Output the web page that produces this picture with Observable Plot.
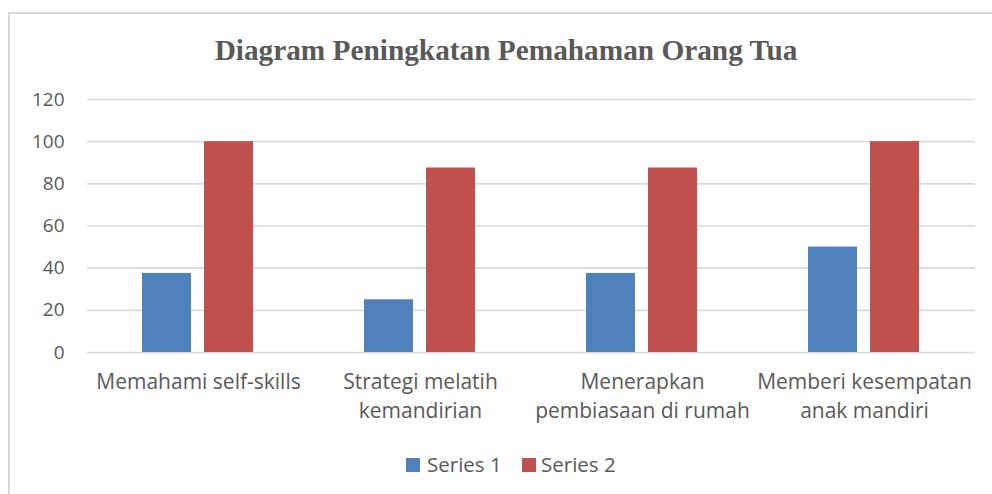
<!DOCTYPE html>
<html><head><meta charset="utf-8">
<script src="https://cdn.jsdelivr.net/npm/d3@7"></script>
<script src="https://cdn.jsdelivr.net/npm/@observablehq/plot@0.6"></script>
<style>
body{margin:0;background:#fff;}
#wrap{position:relative;width:992px;height:494px;overflow:hidden;font-family:"Open Sans",sans-serif;color:#595959;background:#fff;}
#frame{position:absolute;left:8px;top:12px;width:1100px;height:600px;border-left:2px solid #d9d9d9;border-top:2px solid #d9d9d9;}
#title{position:absolute;left:0;width:1012px;top:35px;text-align:center;font-family:"Liberation Serif",serif;font-weight:bold;font-size:29.3px;line-height:30px;color:#595959;white-space:nowrap;}
#chart{position:absolute;left:0;top:70px;}
.sw{position:absolute;width:14px;height:14px;top:458px;}
.lt{position:absolute;top:454px;font-size:20.5px;line-height:20px;color:#595959;white-space:nowrap;}
</style>
</head><body>
<div id="wrap">
  <div id="frame"></div>
  <div id="title"></div>
  <div id="chart"></div>
  <div id="legend"></div>
</div>
<script>
const title = "Diagram Peningkatan Pemahaman Orang Tua";
const categories = ["Memahami self-skills", "Strategi melatih\nkemandirian", "Menerapkan\npembiasaan di rumah", "Memberi kesempatan\nanak mandiri"];
const seriesNames = ["Series 1", "Series 2"];
const series1 = [37.5, 25, 37.5, 50];
const series2 = [100, 87.5, 87.5, 100];
const yTicks = [0, 20, 40, 60, 80, 100, 120];
const colors = ["#4F81BD", "#C0504D"];

document.getElementById("title").textContent = title;

const data = categories.flatMap((c, i) => [
  {cat: c, series: seriesNames[0], value: series1[i]},
  {cat: c, series: seriesNames[1], value: series2[i]}
]);

const chart = Plot.plot({
  width: 992, height: 362,
  marginLeft: 85, marginRight: 16, marginTop: 29, marginBottom: 80,
  style: {fontFamily: "'Open Sans', sans-serif", fontSize: "19px", color: "#595959", background: "transparent", overflow: "visible"},
  fx: {domain: categories, padding: 0, label: null},
  x: {domain: seriesNames, paddingInner: 0.206, paddingOuter: 0.871, axis: null},
  y: {domain: [0, 120], label: null},
  color: {domain: seriesNames, range: colors},
  marks: [
    Plot.gridY(yTicks, {stroke: "#d9d9d9", strokeOpacity: 1, strokeWidth: 1.6}),
    Plot.axisY(yTicks, {anchor: "left", facetAnchor: "left", tickSize: 0, tickPadding: 23, fontSize: 19, fill: "#595959", label: null}),
    Plot.axisFx({anchor: "bottom", tickSize: 0, tickPadding: 16, fontSize: 21, lineHeight: 1.38, fill: "#595959", label: null}),
    Plot.barY(data, {fx: "cat", x: "series", y: "value", fill: "series"})
  ]
});
document.getElementById("chart").appendChild(chart);

// legend
const legend = document.getElementById("legend");
const swX = [406, 522], txX = [427, 541];
seriesNames.forEach((s, i) => {
  const sw = document.createElement("div");
  sw.className = "sw"; sw.style.left = swX[i] + "px"; sw.style.background = colors[i];
  const t = document.createElement("div");
  t.className = "lt"; t.style.left = txX[i] + "px"; t.textContent = s;
  legend.appendChild(sw); legend.appendChild(t);
});
</script>
</body></html>
